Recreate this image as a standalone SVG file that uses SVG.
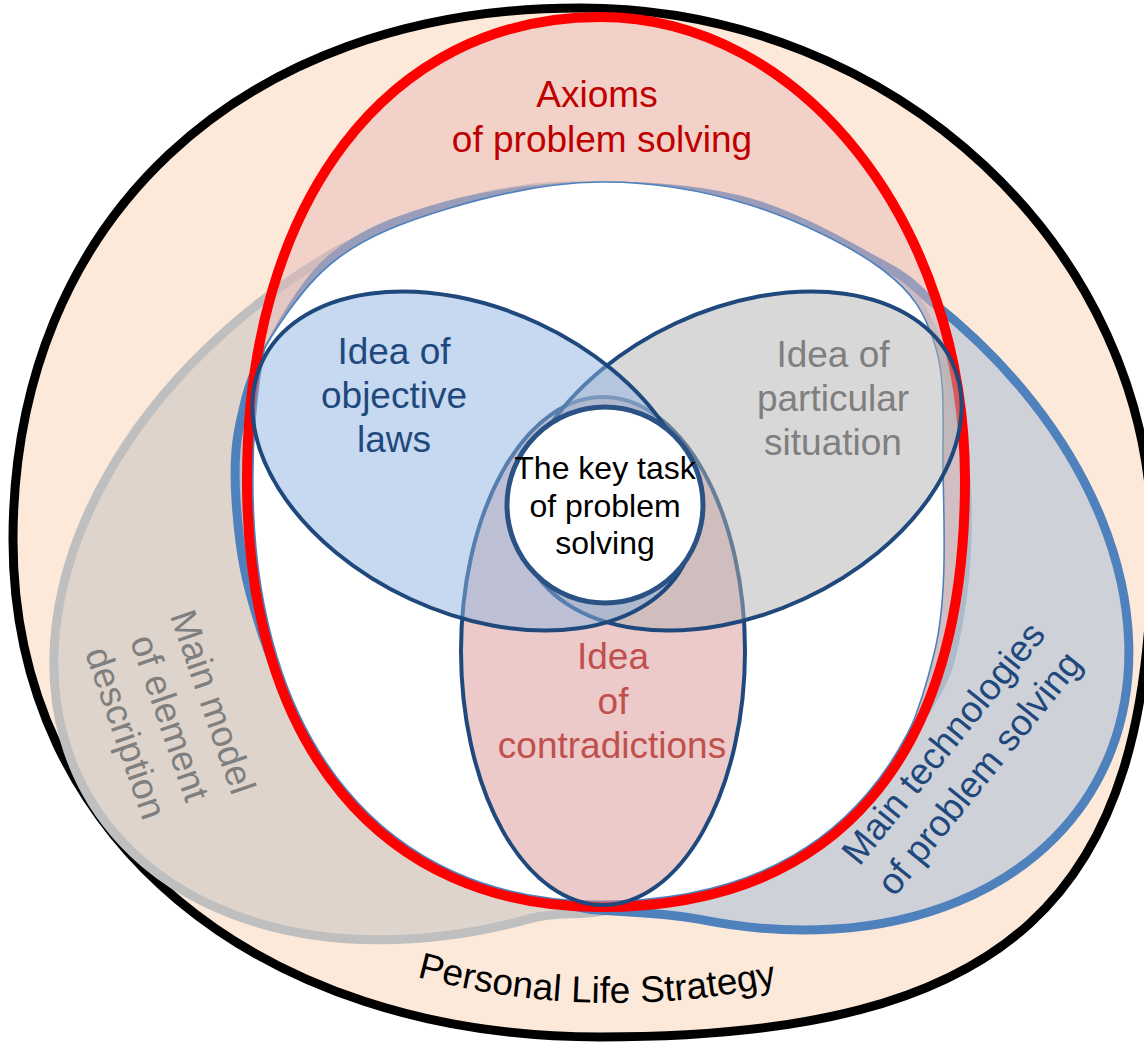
<svg xmlns="http://www.w3.org/2000/svg" width="1144" height="1044" viewBox="0 0 1144 1044">
  <defs>
    <style>
      text { font-family: "Liberation Sans", Arial, Helvetica, sans-serif; text-anchor: middle; }
      .t37 { font-size: 37px; }
      .t32 { font-size: 32px; }
      .ring { fill: none; stroke-linejoin: round; }
      .inner { stroke: #1f497d; stroke-width: 4; }
    </style>
    <!-- egg-shaped outline of the axioms area, reused for fill, clip and stroke -->
    <path id="axiomsShape" d="M600 17 C801.5 17 965 224.4 965 480 C965 757.6 837.3 907 600 907 C381 907 247 744.7 247 480 C247 202.2 388 17 600 17 Z"/>
    <clipPath id="axiomsClip"><use href="#axiomsShape"/></clipPath>
    <!-- upper edge of the central free area -->
    <path id="innerEdge" d="M257 362 C270.8 335.7 300.8 287.7 333 262 C365.2 236.3 405.5 221.3 450 208 C494.5 194.7 550 182.5 600 182 C650 181.5 702.8 190.3 750 205 C797.2 219.7 852.2 246.7 883 270 C913.8 293.3 925 313.3 935 345 C945 376.7 943 409.2 943 460 C943 510.8 948.8 590.5 935 650 C921.2 709.5 895.8 776.5 860 817 C824.2 857.5 763.7 878.3 720 893 C676.3 907.7 634.7 905.5 598 905"/>
    <!-- the free central field (closed below the axioms outline, then clipped by it) -->
    <path id="fieldShape" d="M257 362 C270.8 335.7 300.8 287.7 333 262 C365.2 236.3 405.5 221.3 450 208 C494.5 194.7 550 182.5 600 182 C650 181.5 702.8 190.3 750 205 C797.2 219.7 852.2 246.7 883 270 C913.8 293.3 925 313.3 935 345 C945 376.7 943 409.2 943 460 C943 510.8 948.8 590.5 935 650 C921.2 709.5 895.8 776.5 860 817 C824.2 857.5 763.7 878.3 720 893 C676.3 907.7 634.7 905.5 598 905 L560 960 L150 700 L200 362 Z"/>
    <clipPath id="fieldClip"><use href="#fieldShape"/></clipPath>
    <path id="strategyArc" d="M410 975 Q595 1026 784 984"/>
  </defs>

  <!-- outermost area -->
  <g id="node-strategy">
    <path d="M580 8 C895 8 1152 250 1152 540 C1152 900 1010 1037 600 1037 C260 1037 13 840 13 540 C13 221 240 8 580 8 Z" fill="#fde9d9" stroke="#000" stroke-width="9"/>
    <text font-size="37" fill="#000"><textPath href="#strategyArc" startOffset="50%">Personal Life Strategy</textPath></text>
  </g>

  <!-- left tilted band -->
  <g id="node-element-model">
    <path d="M597 912 C575 915 553 912 530 918.65 A488 348 -30 0 1 337 250.6 C357 241 372 232.6 400 223 C428 213.4 466.7 199.25 500 193 C533.3 186.9 558.3 184.3 600 186.5 C641.7 188.7 702.7 192.4 750 206 C797.3 219.6 854 248.2 884 268 C914 287.8 918.2 303 930 325 C941.8 347 949 374.2 955 400 C961 425.8 964.2 453.3 966 480 C967.8 506.7 967.8 533.3 966 560 C964.2 586.7 959.7 618.3 955 640 C950.3 661.7 948.8 670 938 690 C927.2 710 913 733.3 890 760 C867 786.7 833.3 827.5 800 850 C766.7 872.5 723.8 884.7 690 895 C656.2 905.3 621.8 908.5 597 912 Z" fill="#bfbfbf" fill-opacity="0.5" stroke="#bfbfbf" stroke-width="9"/>
    <g class="t37" fill="#7f7f7f">
      <text transform="translate(201 706) rotate(71)">Main model</text>
      <text transform="translate(158 722) rotate(71)">of element</text>
      <text transform="translate(114 737) rotate(71)">description</text>
    </g>
  </g>

  <!-- right tilted band -->
  <g id="node-technologies">
    <path d="M255 372 C269.7 346.8 298.7 286.8 331 259 C363.3 231.2 404.2 217.2 449 205 C493.8 192.8 549.7 186.3 600 186 C650.3 185.7 703.5 189.7 751 203 C798.5 216.3 853.8 249.3 885 266 C915.3 282.5 916.9 289.8 932.6 302.2 A476 345 30 0 1 699.9 919.4 C670.5 913.5 627 911.5 597 910 C520 905 330 780 285 690 C276.1 672.1 268.8 653.5 262 633 C255.2 612.5 248.3 589.2 244 567 C239.7 544.8 237.3 519.5 236 500 C234.7 480.5 234.8 465 236 450 C237.2 435 239.8 423 243 410 C246.2 397 248.3 385.4 255 372 Z" fill="#95b3d7" fill-opacity="0.45" stroke="#4f81bd" stroke-width="9"/>
    <g class="t37" fill="#1f497d">
      <text transform="translate(953 751) rotate(-51)">Main technologies</text>
      <text transform="translate(989 781) rotate(-51)">of problem solving</text>
    </g>
  </g>

  <!-- axioms area with the free central field -->
  <g id="node-axioms">
    <use href="#axiomsShape" fill="#e6b9b8" fill-opacity="0.5"/>
    <g clip-path="url(#axiomsClip)">
      <use href="#fieldShape" fill="#fff"/>
      <g clip-path="url(#fieldClip)">
        <use href="#axiomsShape" class="ring" stroke="#4f81bd" stroke-width="13.2"/>
      </g>
      <use href="#innerEdge" class="ring" stroke="#4f81bd" stroke-width="1.6"/>
    </g>
    <use href="#axiomsShape" class="ring" stroke="#ff0000" stroke-width="10"/>
    <g class="t37" fill="#c00000">
      <text x="597" y="107">Axioms</text>
      <text x="602" y="152">of problem solving</text>
    </g>
  </g>

  <g id="node-contradictions">
    <ellipse cx="603" cy="651" rx="142" ry="254" fill="#d99694" fill-opacity="0.5" class="inner"/>
    <g class="t37" fill="#c0504d">
      <text x="613" y="669">Idea</text>
      <text x="613" y="714">of</text>
      <text x="612" y="758">contradictions</text>
    </g>
  </g>

  <g id="node-particular">
    <ellipse cx="740" cy="461" rx="234" ry="152" transform="rotate(-25 740 461)" fill="#b2b2b2" fill-opacity="0.5" class="inner"/>
    <g class="t37" fill="#7f7f7f">
      <text x="833" y="367">Idea of</text>
      <text x="833" y="411">particular</text>
      <text x="833" y="455">situation</text>
    </g>
  </g>

  <g id="node-objective">
    <ellipse cx="474" cy="461" rx="234" ry="152" transform="rotate(25 474 461)" fill="#8db3e2" fill-opacity="0.5" class="inner"/>
    <g class="t37" fill="#1f497d">
      <text x="394" y="364">Idea of</text>
      <text x="394" y="408">objective</text>
      <text x="394" y="452">laws</text>
    </g>
  </g>

  <g id="node-key-task">
    <circle cx="605" cy="505" r="98" fill="#fff" stroke="#2b5284" stroke-width="5"/>
    <g class="t32" fill="#000">
      <text x="605" y="479">The key task</text>
      <text x="605" y="517">of problem</text>
      <text x="605" y="554">solving</text>
    </g>
  </g>
</svg>
